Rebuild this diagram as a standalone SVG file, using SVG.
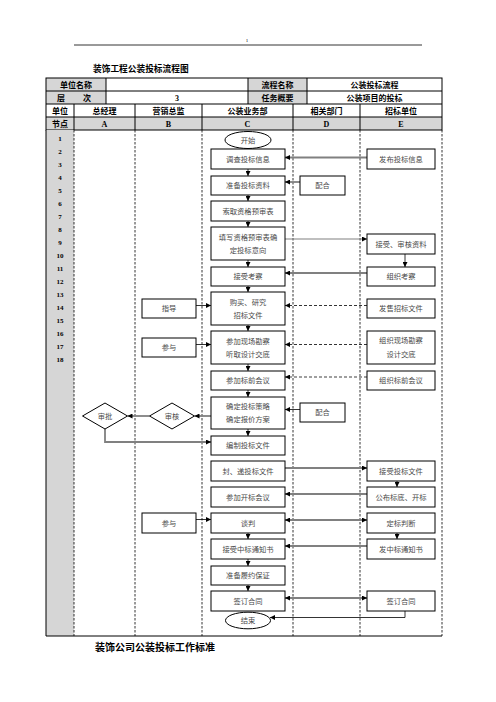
<svg xmlns="http://www.w3.org/2000/svg" width="496" height="702" viewBox="0 0 496 702">
<defs>
<style>
.t{font-family:"Noto Sans CJK SC",sans-serif;font-size:7.3px;fill:#4a4a4a;text-anchor:middle}
.h{font-family:"Liberation Serif","Noto Sans CJK SC",serif;font-weight:bold;font-size:8px;fill:#000;text-anchor:middle}
.n{font-family:"Liberation Serif",serif;font-weight:bold;font-size:7px;fill:#000;text-anchor:middle}
.box{fill:#fff;stroke:#000;stroke-width:1}
.gf{fill:#d6d6d6}
.ln{stroke:#000;stroke-width:1;fill:none}
.lane{stroke:#000;stroke-width:0.8;stroke-dasharray:2.5,1.5;fill:none}
.g{stroke:#808080;stroke-width:1.8;fill:none}
.k{stroke:#000;stroke-width:0.8;fill:none}
.d{stroke:#000;stroke-width:0.8;stroke-dasharray:3,2;fill:none}
.dg{stroke:#808080;stroke-width:1.6;stroke-dasharray:3,2;fill:none}
</style>
<marker id="a" viewBox="0 0 6 6" refX="6" refY="3" markerWidth="5" markerHeight="5" markerUnits="userSpaceOnUse" orient="auto-start-reverse"><path d="M0,0 L6,3 L0,6z" fill="#000"/></marker>
</defs>
<rect width="496" height="702" fill="#fff"/>
<!-- page header -->
<text x="247" y="42" style="font-family:'Liberation Serif',serif;font-size:5px;text-anchor:middle">1</text>
<line x1="74" y1="45" x2="422" y2="45" stroke="#000" stroke-width="0.8"/>
<text x="93" y="72" style="font-family:'Noto Sans CJK SC',sans-serif;font-weight:bold;font-size:8.7px">装饰工程公装投标流程图</text>
<!-- header table -->
<g id="header">
<rect x="46" y="78" width="60" height="26" class="gf"/>
<rect x="248" y="78" width="59" height="26" class="gf"/>
<rect x="46" y="117" width="396" height="13" class="gf"/>
<rect x="46" y="78" width="396" height="52" class="ln"/>
<line x1="46" y1="91" x2="442" y2="91" class="ln"/>
<line x1="46" y1="104" x2="442" y2="104" class="ln"/>
<line x1="46" y1="117" x2="442" y2="117" class="ln"/>
<line x1="106" y1="78" x2="106" y2="104" class="ln"/>
<line x1="248" y1="78" x2="248" y2="104" class="ln"/>
<line x1="307" y1="78" x2="307" y2="104" class="ln"/>
<line x1="74" y1="104" x2="74" y2="130" class="ln"/>
<line x1="135" y1="104" x2="135" y2="130" class="ln"/>
<line x1="202" y1="104" x2="202" y2="130" class="ln"/>
<line x1="293" y1="104" x2="293" y2="130" class="ln"/>
<line x1="360" y1="104" x2="360" y2="130" class="ln"/>
<text x="76" y="87.8" class="h">单位名称</text>
<text x="277.5" y="87.8" class="h">流程名称</text>
<text x="374.5" y="87.8" class="h">公装投标流程</text>
<text x="61" y="100.8" class="h">层</text>
<text x="87" y="100.8" class="h">次</text>
<text x="177" y="100.8" class="h">3</text>
<text x="277.5" y="100.8" class="h">任务概要</text>
<text x="374.5" y="100.8" class="h">公装项目的投标</text>
<text x="60" y="113.8" class="h">单位</text>
<text x="104.5" y="113.8" class="h">总经理</text>
<text x="168.5" y="113.8" class="h">营销总监</text>
<text x="247.5" y="113.8" class="h">公装业务部</text>
<text x="326.5" y="113.8" class="h">相关部门</text>
<text x="401" y="113.8" class="h">招标单位</text>
<text x="60" y="126.8" class="h">节点</text>
<text x="104.5" y="126.8" class="h">A</text>
<text x="168.5" y="126.8" class="h">B</text>
<text x="247.5" y="126.8" class="h">C</text>
<text x="326.5" y="126.8" class="h">D</text>
<text x="401" y="126.8" class="h">E</text>
</g>
<!-- body lanes -->
<g id="lanes">
<rect x="46" y="130" width="28" height="506" class="gf"/>
<line x1="46" y1="130" x2="46" y2="636" class="ln"/>
<line x1="46" y1="636" x2="442" y2="636" class="ln"/>
<line x1="74" y1="130" x2="74" y2="636" class="lane"/>
<line x1="135" y1="130" x2="135" y2="636" class="lane"/>
<line x1="202" y1="130" x2="202" y2="636" class="lane"/>
<line x1="293" y1="130" x2="293" y2="636" class="lane"/>
<line x1="360" y1="130" x2="360" y2="636" class="lane"/>
<line x1="442" y1="130" x2="442" y2="636" class="lane"/>
<text x="60" y="140.8" class="n">1</text>
<text x="60" y="153.8" class="n">2</text>
<text x="60" y="166.8" class="n">3</text>
<text x="60" y="179.8" class="n">4</text>
<text x="60" y="192.8" class="n">5</text>
<text x="60" y="205.8" class="n">6</text>
<text x="60" y="218.8" class="n">7</text>
<text x="60" y="231.8" class="n">8</text>
<text x="60" y="244.8" class="n">9</text>
<text x="60" y="257.8" class="n">10</text>
<text x="60" y="270.8" class="n">11</text>
<text x="60" y="283.8" class="n">12</text>
<text x="60" y="296.8" class="n">13</text>
<text x="60" y="309.8" class="n">14</text>
<text x="60" y="322.8" class="n">15</text>
<text x="60" y="335.8" class="n">16</text>
<text x="60" y="348.8" class="n">17</text>
<text x="60" y="361.8" class="n">18</text>
</g>
<!-- connectors -->
<g id="connectors">
<path class="k" marker-end="url(#a)" d="M248,148.5 V149"/>
<path class="k" marker-end="url(#a)" d="M248,169 V176"/>
<path class="k" marker-end="url(#a)" d="M248,195 V201"/>
<path class="k" marker-end="url(#a)" d="M248,221 V227"/>
<path class="k" marker-end="url(#a)" d="M248,260 V267"/>
<path class="k" marker-end="url(#a)" d="M248,286 V292"/>
<path class="k" marker-end="url(#a)" d="M248,325 V331"/>
<path class="k" marker-end="url(#a)" d="M248,364 V371"/>
<path class="k" marker-end="url(#a)" d="M248,390 V397"/>
<path class="k" marker-end="url(#a)" d="M248,429 V436"/>
<path class="k" marker-end="url(#a)" d="M248,533 V539"/>
<path class="k" marker-end="url(#a)" d="M248,559 V566"/>
<path class="k" marker-end="url(#a)" d="M248,585 V591"/>
<path class="k" marker-end="url(#a)" d="M405,254 V267"/>
<path class="k" marker-end="url(#a)" d="M397,481 V487"/>
<path class="k" marker-end="url(#a)" d="M397,533 V539"/>
<path class="g" marker-end="url(#a)" d="M367,157.5 H285"/>
<path class="g" marker-end="url(#a)" d="M300,182 H285"/>
<path class="g" style="stroke-width:1.2" marker-end="url(#a)" d="M285,239 H367"/>
<path class="g" marker-end="url(#a)" d="M367,273 H285"/>
<path class="d" marker-end="url(#a)" d="M367,305.5 H285"/>
<path class="k" marker-end="url(#a)" d="M196,305.5 H211"/>
<path class="d" marker-end="url(#a)" d="M367,344.5 H285"/>
<path class="k" marker-end="url(#a)" d="M196,344.5 H211"/>
<path class="dg" marker-end="url(#a)" d="M367,377 H285"/>
<path class="k" marker-end="url(#a)" d="M300,409.5 H285"/>
<path class="g" marker-end="url(#a)" d="M211,416 H194.5"/>
<path class="g" marker-end="url(#a)" d="M149.5,416 H127.5"/>
<path class="g" marker-end="url(#a)" d="M105,429 V442 H211"/>
<path class="g" marker-end="url(#a)" d="M285,468 H367"/>
<path class="g" marker-end="url(#a)" d="M367,494 H285"/>
<path class="g" marker-start="url(#a)" marker-end="url(#a)" d="M285,520 H367"/>
<path class="k" marker-end="url(#a)" d="M196,519.5 H211"/>
<path class="g" marker-end="url(#a)" d="M367,546 H285"/>
<path class="g" marker-start="url(#a)" marker-end="url(#a)" d="M285,598 H367"/>
<path class="k" marker-end="url(#a)" d="M405,611 V617.5 H270"/>
</g>
<!-- C lane nodes -->
<g id="start"><ellipse cx="248" cy="140" rx="23" ry="8.5" class="box"/><text x="248" y="142.5" class="t">开始</text></g>
<g id="c1"><rect x="211" y="149" width="74" height="20" class="box"/><text x="248" y="161.5" class="t">调查投标信息</text></g>
<g id="c2"><rect x="211" y="176" width="74" height="19" class="box"/><text x="248" y="188" class="t">准备投标资料</text></g>
<g id="c3"><rect x="211" y="201" width="74" height="20" class="box"/><text x="248" y="213.5" class="t">索取资格预审表</text></g>
<g id="c4"><rect x="211" y="227" width="74" height="33" class="box"/><text x="248" y="239.8" class="t">填写资格预审表确</text><text x="248" y="252.5" class="t">定投标意向</text></g>
<g id="c5"><rect x="211" y="267" width="74" height="19" class="box"/><text x="248" y="279" class="t">接受考察</text></g>
<g id="c6"><rect x="211" y="292" width="74" height="33" class="box"/><text x="248" y="304.8" class="t">购买、研究</text><text x="248" y="317.5" class="t">招标文件</text></g>
<g id="c7"><rect x="211" y="331" width="74" height="33" class="box"/><text x="248" y="343.8" class="t">参加现场勘察</text><text x="248" y="356.8" class="t">听取设计交底</text></g>
<g id="c8"><rect x="211" y="371" width="74" height="19" class="box"/><text x="248" y="383" class="t">参加标前会议</text></g>
<g id="c9"><rect x="211" y="397" width="74" height="32" class="box"/><text x="248" y="408.5" class="t">确定投标策略</text><text x="248" y="421.8" class="t">确定报价方案</text></g>
<g id="c10"><rect x="211" y="436" width="74" height="19" class="box"/><text x="248" y="448" class="t">编制投标文件</text></g>
<g id="c11"><rect x="211" y="461" width="74" height="20" class="box"/><text x="248" y="473.5" class="t">封、递投标文件</text></g>
<g id="c12"><rect x="211" y="487" width="74" height="20" class="box"/><text x="248" y="499.5" class="t">参加开标会议</text></g>
<g id="c13"><rect x="211" y="513" width="74" height="20" class="box"/><text x="248" y="525.5" class="t">谈判</text></g>
<g id="c14"><rect x="211" y="539" width="74" height="20" class="box"/><text x="248" y="551.5" class="t">接受中标通知书</text></g>
<g id="c15"><rect x="211" y="566" width="74" height="19" class="box"/><text x="248" y="578" class="t">准备履约保证</text></g>
<g id="c16"><rect x="211" y="591" width="74" height="20" class="box"/><text x="248" y="603.5" class="t">签订合同</text></g>
<g id="end"><ellipse cx="248" cy="620.5" rx="22.5" ry="8.3" class="box"/><text x="248" y="623" class="t">结束</text></g>
<!-- A/B lane nodes -->
<g id="b1"><rect x="142" y="299" width="54" height="19" class="box"/><text x="169" y="311" class="t">指导</text></g>
<g id="b2"><rect x="142" y="338" width="54" height="19" class="box"/><text x="169" y="350" class="t">参与</text></g>
<g id="b3"><rect x="142" y="513" width="54" height="20" class="box"/><text x="169" y="525.5" class="t">参与</text></g>
<g id="review"><polygon points="149.5,416 172,403 194.5,416 172,429" class="box"/><text x="172" y="418.5" class="t">审核</text></g>
<g id="approve"><polygon points="82.5,416 105,403 127.5,416 105,429" class="box"/><text x="105" y="418.5" class="t">审批</text></g>
<!-- D lane nodes -->
<g id="d1"><rect x="300" y="176" width="45" height="19" class="box"/><text x="322.5" y="188" class="t">配合</text></g>
<g id="d2"><rect x="300" y="403" width="45" height="19" class="box"/><text x="322.5" y="415" class="t">配合</text></g>
<!-- E lane nodes -->
<g id="e1"><rect x="367" y="149" width="68" height="20" class="box"/><text x="401" y="161.5" class="t">发布投标信息</text></g>
<g id="e2"><rect x="367" y="234" width="68" height="20" class="box"/><text x="401" y="246.5" class="t">接受、审核资料</text></g>
<g id="e3"><rect x="367" y="267" width="68" height="19" class="box"/><text x="401" y="279" class="t">组织考察</text></g>
<g id="e4"><rect x="367" y="299" width="68" height="19" class="box"/><text x="401" y="311" class="t">发售招标文件</text></g>
<g id="e5"><rect x="367" y="331" width="68" height="33" class="box"/><text x="401" y="342.8" class="t">组织现场勘察</text><text x="401" y="356.5" class="t">设计交底</text></g>
<g id="e6"><rect x="367" y="371" width="68" height="19" class="box"/><text x="401" y="383" class="t">组织标前会议</text></g>
<g id="e7"><rect x="367" y="461" width="68" height="20" class="box"/><text x="401" y="473.5" class="t">接受投标文件</text></g>
<g id="e8"><rect x="367" y="487" width="68" height="20" class="box"/><text x="401" y="499.5" class="t">公布标底、开标</text></g>
<g id="e9"><rect x="367" y="513" width="68" height="20" class="box"/><text x="401" y="525.5" class="t">定标判断</text></g>
<g id="e10"><rect x="367" y="539" width="68" height="20" class="box"/><text x="401" y="551.5" class="t">发中标通知书</text></g>
<g id="e11"><rect x="367" y="591" width="68" height="20" class="box"/><text x="401" y="603.5" class="t">签订合同</text></g>
<text x="95" y="650.5" style="font-family:'Noto Sans CJK SC',sans-serif;font-weight:bold;font-size:10px">装饰公司公装投标工作标准</text>
</svg>
